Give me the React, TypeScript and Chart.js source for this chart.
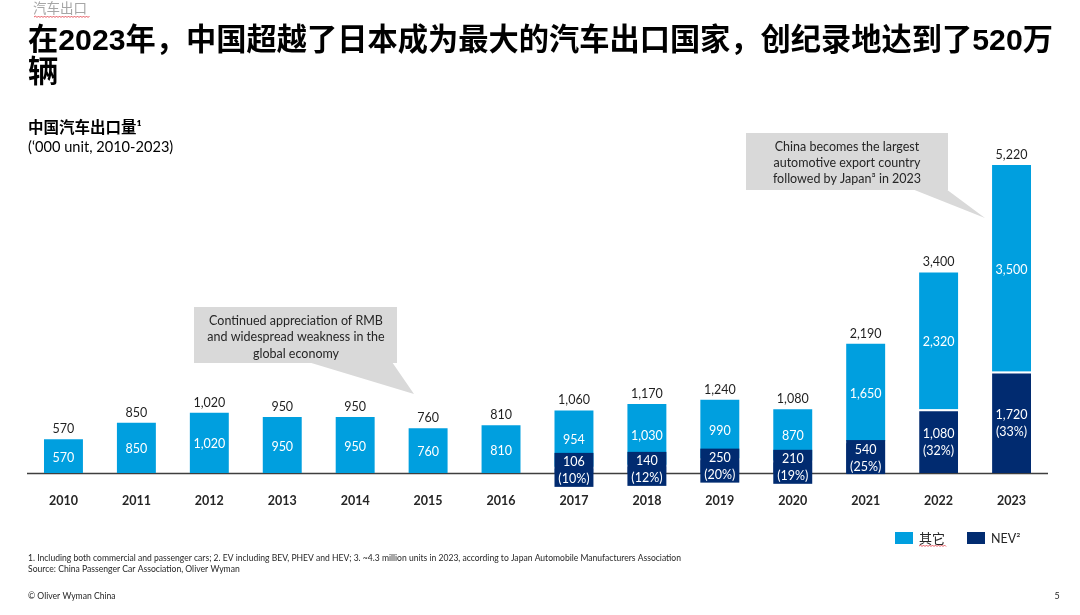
import React, { useEffect, useRef } from "react";
import { Chart, registerables } from "chart.js";

Chart.register(...registerables);

const years = ["2010", "2011", "2012", "2013", "2014", "2015", "2016", "2017", "2018", "2019", "2020", "2021", "2022", "2023"];
const others = [570, 850, 1020, 950, 950, 760, 810, 954, 1030, 990, 870, 1650, 2320, 3500];
const nev = [null, null, null, null, null, null, null, 106, 140, 250, 210, 540, 1080, 1720];
const totals = [570, 850, 1020, 950, 950, 760, 810, 1060, 1170, 1240, 1080, 2190, 3400, 5220];
const nevShare = [null, null, null, null, null, null, null, "10%", "12%", "20%", "19%", "25%", "32%", "33%"];

const LIGHT = "#009FDF";
const NAVY = "#012B70";
const LAT = 'Lato, "Noto Sans CJK SC", sans-serif';
const CJK = '"Liberation Sans", "Noto Sans CJK SC", sans-serif';

const fmt = (v: number) => v.toLocaleString("en-US");

function txt(ctx: CanvasRenderingContext2D, s: string, x: number, y: number, font: string, color: string, align: CanvasTextAlign = "center", maxW?: number) {
  ctx.save();
  ctx.font = font;
  ctx.fillStyle = color;
  ctx.textAlign = align;
  ctx.textBaseline = "middle";
  if (maxW) ctx.fillText(s, x, y, maxW);
  else ctx.fillText(s, x, y);
  ctx.restore();
}

function squiggle(ctx: CanvasRenderingContext2D, x0: number, x1: number, y: number) {
  ctx.save();
  ctx.strokeStyle = "#E0303A";
  ctx.lineWidth = 0.8;
  ctx.beginPath();
  let up = true;
  ctx.moveTo(x0, y);
  for (let x = x0 + 1.5; x <= x1; x += 1.5) {
    ctx.lineTo(x, up ? y - 1 : y + 0.5);
    up = !up;
  }
  ctx.stroke();
  ctx.restore();
}

function callout(ctx: CanvasRenderingContext2D, rect: number[], tail: number[][]) {
  ctx.save();
  ctx.fillStyle = "#D9D9D9";
  ctx.fillRect(rect[0], rect[1], rect[2] - rect[0], rect[3] - rect[1]);
  ctx.beginPath();
  ctx.moveTo(tail[0][0], tail[0][1]);
  ctx.lineTo(tail[1][0], tail[1][1]);
  ctx.lineTo(tail[2][0], tail[2][1]);
  ctx.closePath();
  ctx.fill();
  ctx.restore();
}

const decor = {
  id: "decor",
  beforeDatasetsDraw(chart: any) {
    const ctx = chart.ctx as CanvasRenderingContext2D;
    const { left, right, bottom } = chart.chartArea;
    callout(ctx, [194, 307, 397, 363], [[308, 362], [392, 362], [414, 394]]);
    callout(ctx, [746, 133, 948, 190], [[912, 189], [946, 189], [985, 218]]);
    ctx.save();
    ctx.strokeStyle = "#3F3F3F";
    ctx.lineWidth = 1.5;
    ctx.beginPath();
    ctx.moveTo(left, bottom + 0.5);
    ctx.lineTo(right, bottom + 0.5);
    ctx.stroke();
    ctx.restore();
  },
  afterDatasetsDraw(chart: any) {
    const ctx = chart.ctx as CanvasRenderingContext2D;
    const xs = chart.scales.x;
    const ys = chart.scales.y;
    const bottom = chart.chartArea.bottom;
    const nevMeta = chart.getDatasetMeta(0);
    const valFont = `12.5px ${LAT}`;

    years.forEach((yr, i) => {
      const x = xs.getPixelForValue(i);
      txt(ctx, yr, x, bottom + 27.5, `bold 12.5px ${LAT}`, "#262626");
      const tTop = ys.getPixelForValue(totals[i]);
      txt(ctx, fmt(totals[i]), x, tTop - 10, valFont, "#1F1F1F");
      const nv = nev[i] ?? 0;
      const oBot = ys.getPixelForValue(nv);
      txt(ctx, fmt(others[i]), x, (tTop + oBot) / 2 + 1.5, valFont, "#FFFFFF");
      if (nev[i] != null) {
        const nTop = ys.getPixelForValue(nv);
        const cy = (nTop + bottom) / 2;
        const h = bottom - nTop;
        const el = nevMeta.data[i];
        const w = el.width;
        if (h < 34) {
          ctx.save();
          ctx.fillStyle = NAVY;
          ctx.fillRect(x - w / 2, cy - 17, w, 34);
          ctx.restore();
        }
        txt(ctx, fmt(nv), x, cy - 7.5, valFont, "#FFFFFF");
        txt(ctx, `(${nevShare[i]})`, x, cy + 9.5, valFont, "#FFFFFF");
      }
    });

    const cf = `12.5px ${LAT}`;
    txt(ctx, "Continued appreciation of RMB", 296, 320.5, cf, "#262626");
    txt(ctx, "and widespread weakness in the", 296, 337, cf, "#262626");
    txt(ctx, "global economy", 296, 353.5, cf, "#262626");
    txt(ctx, "China becomes the largest", 847, 146.5, cf, "#262626");
    txt(ctx, "automotive export country", 847, 162.5, cf, "#262626");
    txt(ctx, "followed by Japan\u00B3 in 2023", 847, 178.5, cf, "#262626");

    txt(ctx, "汽车出口", 33, 9, `13.5px ${LAT}`, "#A6A6A6", "left");
    squiggle(ctx, 34, 90, 17);
    txt(ctx, "在2023年，中国超越了日本成为最大的汽车出口国家，创纪录地达到了520万", 28, 42, `bold 30.3px ${CJK}`, "#000000", "left", 1025);
    txt(ctx, "辆", 28, 74, `bold 30.3px ${CJK}`, "#000000", "left");
    txt(ctx, "中国汽车出口量\u00B9", 28, 128, `bold 15.5px ${LAT}`, "#000000", "left");
    txt(ctx, "(\u2018000 unit, 2010-2023)", 28, 147, `14.6px ${LAT}`, "#000000", "left");

    ctx.save();
    ctx.fillStyle = LIGHT;
    ctx.fillRect(895, 532, 18, 12);
    ctx.fillStyle = NAVY;
    ctx.fillRect(967, 532, 18, 12);
    ctx.restore();
    txt(ctx, "其它", 919, 538.5, `13px ${LAT}`, "#262626", "left");
    squiggle(ctx, 919, 946, 546);
    txt(ctx, "NEV\u00B2", 991, 538.5, `12.5px ${LAT}`, "#262626", "left");

    const ff = `8.6px ${LAT}`;
    txt(ctx, "1. Including both commercial and passenger cars; 2. EV including BEV, PHEV and HEV; 3. ~4.3 million units in 2023, according to Japan Automobile Manufacturers Association", 28, 558, ff, "#262626", "left", 653);
    txt(ctx, "Source: China Passenger Car Association, Oliver Wyman", 28, 569, ff, "#262626", "left");
    txt(ctx, "\u00A9 Oliver Wyman China", 28, 596, ff, "#262626", "left");
    txt(ctx, "5", 1057, 596, `9px ${LAT}`, "#262626", "center");
  },
};

export default function App() {
  const ref = useRef<HTMLCanvasElement | null>(null);
  useEffect(() => {
    document.body.style.margin = "0";
    let chart: Chart | null = null;
    let cancelled = false;
    const make = () => {
      if (cancelled || !ref.current) return;
      chart = new Chart(ref.current, {
        type: "bar",
        data: {
          labels: years,
          datasets: [
            {
              label: "NEV\u00B2",
              data: nev as any,
              backgroundColor: NAVY,
              borderColor: "#FFFFFF",
              borderWidth: { top: 2, left: 0, right: 0, bottom: 0 } as any,
              borderSkipped: false,
              barPercentage: 0.534,
              categoryPercentage: 1,
            },
            {
              label: "其它",
              data: others,
              backgroundColor: LIGHT,
              borderWidth: 0,
              barPercentage: 0.534,
              categoryPercentage: 1,
            },
          ],
        },
        options: {
          responsive: false,
          animation: false,
          devicePixelRatio: 1,
          layout: { padding: { top: 119, bottom: 142, left: 27, right: 32 } },
          scales: {
            x: { display: false, stacked: true },
            y: { display: false, stacked: true, min: 0, max: 6000 },
          },
          plugins: { legend: { display: false }, tooltip: { enabled: false } },
        },
        plugins: [decor as any],
      });
    };
    const fonts = [`12px Lato`, `bold 12px Lato`, `bold 20px "Noto Sans CJK SC"`, `12px "Noto Sans CJK SC"`, `bold 20px "Liberation Sans"`];
    Promise.all(fonts.map((f) => document.fonts.load(f).catch(() => null))).then(make, make);
    return () => {
      cancelled = true;
      if (chart) chart.destroy();
    };
  }, []);
  return (
    <div style={{ position: "fixed", left: 0, top: 0, width: 1080, height: 615, background: "#fff" }}>
      <canvas ref={ref} width={1080} height={615} style={{ width: 1080, height: 615, display: "block" }} />
    </div>
  );
}
